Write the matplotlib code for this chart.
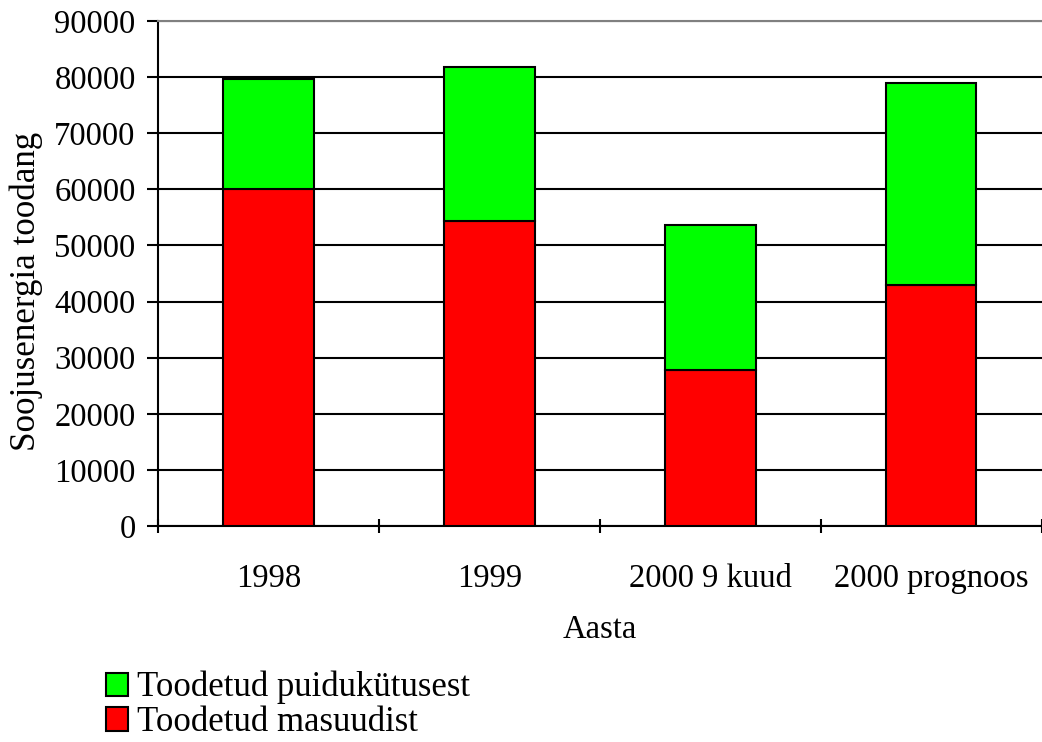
import matplotlib.pyplot as plt
import numpy as np

# andmed
categories = ['1998', '1999', '2000 9 kuud', '2000 prognoos']
masuudist = [60000, 54300, 27800, 42900]
puidukutusest = [19700, 27500, 25900, 36100]
y_ticks = list(range(0, 90001, 10000))


def main() -> None:
    plt.rcParams['font.family'] = ['Liberation Serif', 'DejaVu Serif']
    fig = plt.figure(figsize=(10.42, 7.42), dpi=100)
    ax = fig.add_axes([0.1516, 0.2911, 0.848, 0.6806])

    x = np.arange(len(categories))
    w = 0.41
    b1 = ax.bar(x, masuudist, w, color='#ff0000', edgecolor='black',
                linewidth=1.5, label='Toodetud masuudist', zorder=3)
    b2 = ax.bar(x, puidukutusest, w, bottom=masuudist, color='#00ff00',
                edgecolor='black', linewidth=1.5,
                label='Toodetud puidukütusest', zorder=3)

    ax.set_xlim(-0.5, len(categories) - 0.5)
    ax.set_ylim(0, 90000)
    ax.set_yticks(y_ticks)
    ax.set_yticklabels([str(v) for v in y_ticks], fontsize=23.5)
    ax.set_xticks(np.arange(len(categories) + 1) - 0.5)
    ax.set_xticklabels([])
    ax.set_xticks(x, minor=True)
    ax.set_xticklabels(categories, minor=True, fontsize=23.5)
    ax.tick_params(axis='x', which='minor', length=0, pad=27)
    ax.tick_params(axis='x', which='major', length=10, width=1.5,
                   direction='inout')
    ax.tick_params(axis='y', length=8, width=1.5, direction='out', pad=8)

    ax.yaxis.grid(True, color='black', linewidth=1.5, zorder=0)
    ax.set_axisbelow(True)
    ax.spines['right'].set_visible(False)
    ax.spines['top'].set_color('gray')
    ax.spines['top'].set_linewidth(1.5)
    ax.spines['left'].set_linewidth(1.5)
    ax.spines['bottom'].set_linewidth(1.5)

    ax.set_ylabel('Soojusenergia toodang', fontsize=25.2)
    ax.yaxis.set_label_coords(-0.130, 0.465)
    ax.set_xlabel('Aasta', fontsize=23.5, labelpad=15)

    fig.legend([b2, b1], ['Toodetud puidukütusest', 'Toodetud masuudist'],
               loc='lower left', bbox_to_anchor=(0.078, -0.029), frameon=False,
               fontsize=25, handlelength=0.65, handleheight=0.65,
               handletextpad=0.25, labelspacing=0.05, borderpad=0.2)

    fig.savefig('out.png', dpi=100)


if __name__ == "__main__":
    main()
